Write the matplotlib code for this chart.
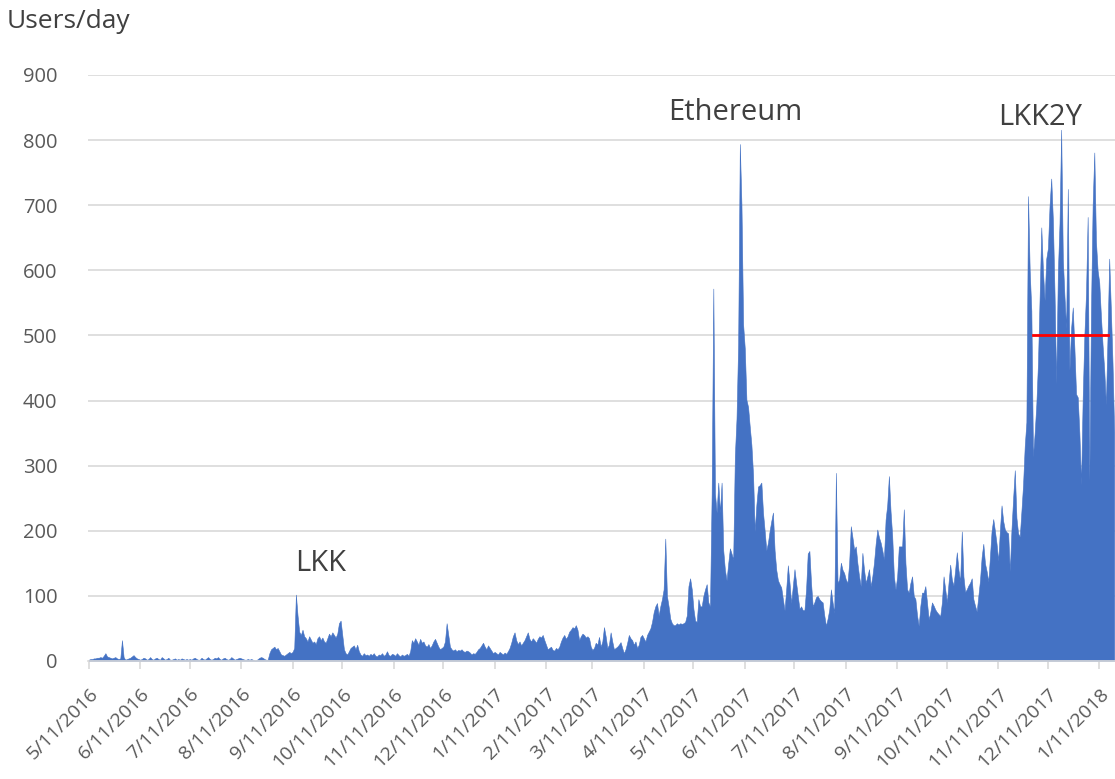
import matplotlib
matplotlib.use('Agg')
import matplotlib.pyplot as plt
import pandas as pd

# daily users, one list per month starting on the 11th
u_2016_05 = [2, 3, 3, 4, 4, 5, 5, 6, 5, 8, 12, 7, 6, 5, 4, 5, 6, 4, 3, 4, 32, 6, 2, 3, 4, 5, 7, 9, 6, 4, 3]
u_2016_06 = [2, 3, 5, 4, 2, 3, 6, 3, 2, 4, 5, 3, 2, 6, 4, 2, 3, 5, 2, 2, 3, 4, 2, 3, 2, 4, 3, 2, 3, 2]
u_2016_07 = [3, 2, 4, 5, 3, 2, 2, 5, 3, 2, 4, 6, 3, 2, 3, 5, 4, 6, 3, 2, 4, 5, 3, 2, 3, 6, 4, 2, 3, 4, 5]
u_2016_08 = [4, 3, 2, 2, 3, 2, 3, 2, 1, 1, 3, 5, 6, 5, 3, 2, 2, 12, 18, 20, 22, 18, 20, 15, 10, 9, 8, 10, 12, 14, 12]
u_2016_09 = [14, 20, 102, 70, 45, 40, 48, 38, 35, 30, 38, 33, 28, 30, 26, 35, 38, 32, 36, 30,
             28, 35, 42, 38, 44, 40, 36, 42, 58, 62]
u_2016_10 = [40, 18, 12, 10, 15, 20, 22, 24, 18, 25, 15, 10, 8, 12, 9, 10, 8, 11, 9, 12,
             8, 7, 10, 9, 12, 8, 10, 15, 9, 8, 11]
u_2016_11 = [10, 8, 12, 9, 7, 10, 8, 9, 11, 8, 15, 32, 28, 35, 30, 25, 34, 28, 30, 24,
             22, 26, 20, 24, 30, 34, 28, 22, 18, 20]
u_2016_12 = [22, 30, 58, 40, 22, 18, 16, 18, 15, 17, 16, 18, 15, 14, 16, 15, 13, 10, 12, 11,
             14, 18, 20, 24, 28, 22, 18, 24, 20, 16, 12]
u_2017_01 = [14, 12, 10, 14, 12, 10, 13, 11, 15, 20, 28, 38, 44, 32, 26, 30, 24, 28, 32, 38,
             44, 34, 30, 35, 32, 28, 34, 38, 36, 40, 32]
u_2017_02 = [25, 18, 20, 22, 17, 16, 20, 18, 22, 30, 36, 40, 34, 38, 45, 48, 52, 50, 55, 48,
             32, 38, 42, 40, 36, 38, 35, 22]
u_2017_03 = [17, 20, 28, 25, 37, 22, 30, 52, 38, 20, 25, 44, 30, 18, 20, 22, 25, 29, 20, 12,
             18, 28, 40, 35, 32, 25, 30, 20, 25, 37, 40]
u_2017_04 = [35, 30, 40, 45, 50, 60, 75, 84, 89, 70, 84, 95, 110, 188, 100, 84, 65, 58, 55, 55,
             58, 56, 58, 57, 58, 60, 70, 115, 127, 110]
u_2017_05 = [80, 62, 60, 95, 84, 84, 100, 110, 118, 90, 84, 257, 572, 257, 228, 274, 228, 274, 170, 140,
             124, 150, 173, 165, 156, 315, 372, 488, 794, 700, 517]
u_2017_06 = [480, 401, 390, 360, 332, 286, 199, 240, 268, 270, 274, 228, 200, 170, 182, 200, 215, 228, 170, 140,
             124, 118, 113, 95, 78, 110, 147, 120, 89, 115]
u_2017_07 = [141, 120, 100, 80, 84, 78, 78, 110, 165, 169, 120, 84, 90, 98, 100, 95, 92, 90, 70, 54,
             65, 79, 110, 90, 74, 289, 120, 125, 151, 140, 135]
u_2017_08 = [125, 120, 150, 207, 190, 171, 176, 150, 130, 115, 166, 140, 120, 130, 141, 115, 130, 151, 180, 202,
             190, 182, 170, 156, 217, 240, 284, 230, 192, 130, 110]
u_2017_09 = [130, 176, 176, 176, 233, 150, 110, 105, 120, 130, 100, 95, 70, 54, 85, 105, 105, 115, 90, 64,
             75, 90, 85, 79, 75, 72, 69, 90, 130, 110]
u_2017_10 = [90, 120, 148, 125, 116, 140, 167, 140, 122, 199, 130, 106, 110, 116, 120, 127, 95, 85, 76, 100,
             124, 160, 180, 150, 138, 122, 160, 200, 218, 200, 180]
u_2017_11 = [154, 200, 239, 215, 202, 198, 196, 138, 202, 250, 293, 220, 196, 191, 230, 271, 330, 367, 714, 600,
             538, 314, 350, 394, 458, 560, 666, 600, 554, 618]
u_2017_12 = [634, 700, 741, 677, 565, 426, 597, 672, 816, 618, 560, 511, 725, 447, 511, 543, 480, 410, 405, 350,
             271, 405, 500, 565, 682, 277, 538, 700, 781, 645, 600]
u_2018_01 = [581, 530, 485, 447, 394, 500, 618, 540, 458, 351]

month_starts = ['2016-05-11', '2016-06-11', '2016-07-11', '2016-08-11', '2016-09-11', '2016-10-11',
                '2016-11-11', '2016-12-11', '2017-01-11', '2017-02-11', '2017-03-11', '2017-04-11',
                '2017-05-11', '2017-06-11', '2017-07-11', '2017-08-11', '2017-09-11', '2017-10-11',
                '2017-11-11', '2017-12-11', '2018-01-11']
months = [u_2016_05, u_2016_06, u_2016_07, u_2016_08, u_2016_09, u_2016_10, u_2016_11,
          u_2016_12, u_2017_01, u_2017_02, u_2017_03, u_2017_04, u_2017_05, u_2017_06,
          u_2017_07, u_2017_08, u_2017_09, u_2017_10, u_2017_11, u_2017_12, u_2018_01]

# red 500 level line and labels
level = 500
level_from, level_to = '2017-12-02', '2018-01-16'
notes = [('LKK', '2016-09-28', 150), ('Ethereum', '2017-06-05', 843), ('LKK2Y', '2017-12-06', 834)]

parts = [pd.Series(v, index=pd.date_range(s, periods=len(v), freq='D')) for s, v in zip(month_starts, months)]
users = pd.concat(parts)
users = users[~users.index.duplicated()].sort_index()

plt.rcParams['font.family'] = ['Open Sans', 'DejaVu Sans']
fig = plt.figure(figsize=(11.15, 7.79), dpi=100)
ax = fig.add_axes([88 / 1115, 118 / 779, 1027 / 1115, 586 / 779])

ax.fill_between(users.index, 0, users.values, color='#4472C4', linewidth=0.4, edgecolor='#4472C4', zorder=2)
ax.plot([pd.Timestamp(level_from), pd.Timestamp(level_to)], [level, level], color='red', lw=2, zorder=3)

for txt, d, y in notes:
    ax.text(pd.Timestamp(d), y, txt, fontsize=21, color='#404040', ha='center', va='center')

t0 = pd.Timestamp(month_starts[0])
ax.set_xlim(t0 - pd.Timedelta(days=0.5), t0 + pd.Timedelta(days=619.5))
ax.set_ylim(0, 900)
ax.set_yticks(range(0, 901, 100))
ax.yaxis.grid(True, color='#d9d9d9', lw=1.2)
ax.set_axisbelow(True)

ticks = [pd.Timestamp(s) for s in month_starts]
ax.set_xticks(ticks)
ax.set_xticklabels([f'{t.month}/{t.day}/{t.year}' for t in ticks], rotation=45, ha='right',
                   rotation_mode='anchor')
ax.tick_params(axis='x', colors='#d9d9d9', length=6, width=1.2, labelcolor='#595959', labelsize=14, pad=11)
ax.tick_params(axis='y', length=0, labelcolor='#595959', labelsize=14.5, pad=22)

for s in ['top', 'right', 'left']:
    ax.spines[s].set_visible(False)
ax.spines['bottom'].set_color('#d9d9d9')
ax.spines['bottom'].set_linewidth(1.2)

fig.text(7 / 1115, 1 - 28 / 779, 'Users/day', fontsize=19, color='#404040', va='baseline', ha='left')

fig.savefig('out.png', dpi=100)
